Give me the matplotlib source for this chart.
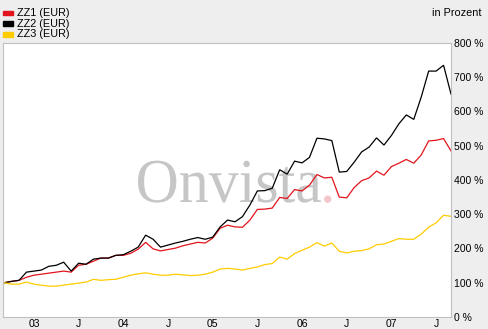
import matplotlib.pyplot as plt
import numpy as np
from matplotlib.textpath import TextPath
from matplotlib.patches import PathPatch
from matplotlib.font_manager import FontProperties
from matplotlib.transforms import Affine2D, IdentityTransform

# Monthly values in percent, Sep 2002 .. Sep 2007 (start = 100 %)
zz1 = [100, 104, 107, 116, 122, 125, 128, 131, 134, 131, 151, 154, 163, 172, 172, 180,
       180, 186, 198, 218, 199, 193, 197, 201, 208, 213, 218, 216, 230, 259, 268, 263,
       262, 283, 314, 315, 318, 349, 346, 372, 368, 385, 416, 406, 408, 350, 348, 378,
       398, 406, 426, 414, 439, 449, 460, 449, 473, 514, 516, 521, 485]
zz2 = [100, 104, 107, 131, 134, 137, 148, 151, 160, 134, 157, 154, 169, 172, 172, 180,
       182, 192, 204, 239, 227, 204, 210, 216, 221, 227, 232, 227, 233, 263, 283, 278,
       293, 327, 368, 369, 376, 430, 417, 455, 450, 466, 522, 520, 515, 423, 425, 452,
       482, 496, 523, 502, 530, 564, 590, 577, 642, 718, 718, 735, 651]
zz3 = [100, 96, 96, 102, 96, 93, 90, 90, 93, 96, 99, 102, 110, 107, 109, 110,
       116, 122, 126, 129, 125, 122, 122, 125, 123, 121, 122, 125, 131, 140, 142, 140,
       137, 142, 146, 153, 156, 175, 169, 185, 195, 204, 217, 207, 216, 192, 187, 192,
       194, 199, 211, 213, 221, 229, 227, 227, 242, 262, 275, 297, 294]

series_names = ['ZZ1 (EUR)', 'ZZ2 (EUR)', 'ZZ3 (EUR)']
series_colors = ['#e2141c', '#000000', '#ffcc00']

x_tick_pos = [4, 10, 16, 22, 28, 34, 40, 46, 52, 58]
x_tick_labels = ['03', 'J', '04', 'J', '05', 'J', '06', 'J', '07', 'J']
y_ticks = [0, 100, 200, 300, 400, 500, 600, 700, 800]

bg = '#eeeeee'
font = 'Liberation Sans'

fig = plt.figure(figsize=(4.88, 3.29), dpi=100, facecolor=bg)
W, H = 488, 329
ax = fig.add_axes([3 / W, 1 - 317 / H, 448 / W, 274 / H])
ax.set_facecolor('white')

months = np.arange(len(zz1))
for vals, c in zip([zz1, zz2, zz3], series_colors):
    ax.plot(months, vals, color=c, lw=0.9, solid_joinstyle='miter', zorder=2)

ax.set_xlim(-0.15, 60)
ax.set_ylim(0, 800)

# watermark "Onvista." drawn as a squeezed text path (pixel coords)
fp = FontProperties(family='Liberation Serif')
word = TextPath((0, 0), 'Onvista', size=1, prop=fp)
ext = word.get_extents()
o_ext = TextPath((0, 0), 'O', size=1, prop=fp).get_extents()
sx = 183 / ext.width
sy = 42 / o_ext.height
x0, base = 138, H - 202
tr = Affine2D().translate(-ext.x0, 0).scale(sx, sy).translate(x0, base)
ax.add_patch(PathPatch(tr.transform_path(word), transform=IdentityTransform(),
                       facecolor='#c6c6c6', edgecolor='none', zorder=0.5))
dot = TextPath((0, 0), '.', size=1, prop=fp)
dext = dot.get_extents()
trd = Affine2D().translate(-dext.x0, 0).scale(sy, sy).translate(324, base)
ax.add_patch(PathPatch(trd.transform_path(dot), transform=IdentityTransform(),
                       facecolor='#f2c6cc', edgecolor='none', zorder=0.5))

for s in ax.spines.values():
    s.set_color('#c0c0c0')
    s.set_linewidth(0.8)

ax.set_xticks(x_tick_pos)
ax.set_xticklabels(x_tick_labels, family=font, fontsize=7.5)
ax.set_yticks(y_ticks)
ax.set_yticklabels([f'{v} %' for v in y_ticks], family=font, fontsize=7.5)
ax.yaxis.tick_right()
ax.tick_params(axis='both', length=0, colors='#000000')
ax.tick_params(axis='y', pad=2)
ax.tick_params(axis='x', pad=1.5)

# legend
for k, (name, c) in enumerate(zip(series_names, series_colors)):
    yc = 1 - (13 + 10.7 * k) / H
    fig.patches.append(plt.Rectangle((3 / W, yc - 2.3 / H), 10 / W, 4.6 / H,
                                     transform=fig.transFigure, color=c))
    fig.text(17 / W, yc, name, ha='left', va='center', family=font, fontsize=7.8)

fig.text(482 / W, 1 - 13 / H, 'in Prozent', ha='right', va='center', family=font, fontsize=7.8)

fig.savefig('out.png', dpi=100, facecolor=bg)
